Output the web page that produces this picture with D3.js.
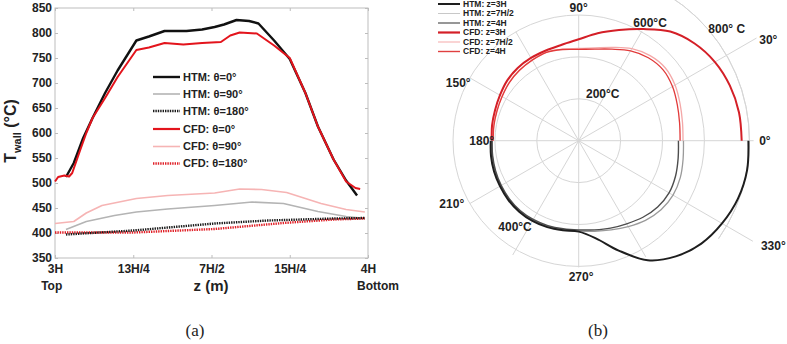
<!DOCTYPE html>
<html>
<head>
<meta charset="utf-8">
<script src="https://cdn.jsdelivr.net/npm/d3@7"></script>
<style>
  body { margin: 0; background: #fff; }
  svg { display: block; }
  text { font-family: "Liberation Sans", Arial, sans-serif; font-weight: bold; fill: #222; }
  .caption { font-family: "Liberation Serif", "Times New Roman", serif; font-weight: normal; font-size: 17px; }
</style>
</head>
<body>
<svg id="fig" width="787" height="344"></svg>
<script>
// ---------- (a) wall temperature along the height ----------
const zTicks = [3, 3.25, 3.5, 3.75, 4];
const zTickLabels = ["3H", "13H/4", "7H/2", "15H/4", "4H"];
const tTicks = [350, 400, 450, 500, 550, 600, 650, 700, 750, 800, 850];

const htm0Z = [3.035, 3.06, 3.09, 3.12, 3.16, 3.2, 3.26, 3.30, 3.35, 3.42, 3.47, 3.51, 3.54, 3.58, 3.62, 3.65, 3.70, 3.75, 3.80, 3.84, 3.89, 3.93, 3.965];
const htm0T = [512, 540, 590, 630, 680, 725, 785, 793, 804, 804, 807, 812, 817, 826, 824, 819, 785, 748, 680, 613, 547, 505, 475];

const cfd0Z = [3.0, 3.01, 3.03, 3.045, 3.055, 3.08, 3.1, 3.12, 3.16, 3.2, 3.26, 3.30, 3.35, 3.41, 3.47, 3.53, 3.56, 3.59, 3.645, 3.70, 3.75, 3.80, 3.84, 3.89, 3.93, 3.96, 3.975];
const cfd0T = [503, 512, 515, 513, 520, 565, 600, 630, 670, 712, 766, 771, 780, 777, 780, 782, 795, 801, 799, 775, 750, 680, 613, 547, 503, 490, 488];

const htm90Z = [3.035, 3.1, 3.19, 3.26, 3.36, 3.51, 3.63, 3.73, 3.84, 3.93, 3.98];
const htm90T = [407, 423, 435, 442, 448, 455, 462, 459, 443, 433, 430];

const cfd90Z = [3.0, 3.06, 3.1, 3.15, 3.26, 3.36, 3.51, 3.59, 3.66, 3.74, 3.85, 3.93, 3.99];
const cfd90T = [419, 423, 440, 455, 469, 475, 480, 488, 487, 481, 459, 447, 442];

const htm180Z = [3.035, 3.25, 3.51, 3.68, 3.89, 3.99];
const htm180T = [397, 405, 419, 425, 429, 430];

const cfd180Z = [3.0, 3.25, 3.51, 3.73, 3.89, 3.99];
const cfd180T = [401, 401, 408, 420, 427, 429];

const lineNames = ["HTM: θ=0°", "HTM: θ=90°", "HTM: θ=180°", "CFD: θ=0°", "CFD: θ=90°", "CFD: θ=180°"];

// ---------- (b) circumferential wall temperature ----------
const upperAngles = [0, 10, 20, 30, 40, 50, 60, 70, 80, 90, 100, 110, 120, 130, 140, 150, 160, 170, 180];
const cfd3H   = [778, 777, 768, 751, 722, 680, 615, 562, 521, 484, 465, 458, 456, 453, 446, 434, 425, 420, 415];
const cfd7H2  = [498, 503, 515, 531, 540, 530, 507, 474, 450, 440, 444, 450, 445, 440, 433, 423, 416, 412, 409];
const cfd4H   = [484, 489, 501, 517, 526, 517, 495, 465, 444, 436, 442, 449, 444, 439, 432, 422, 415, 411, 408];

const lowerAngles = [180, 190, 200, 210, 220, 230, 240, 250, 260, 270, 280, 290, 300, 310, 320, 330, 340, 350, 360];
const htm3H   = [420, 425, 430, 434, 439, 442, 442, 439, 434, 434, 473, 558, 659, 721, 764, 790, 809, 816, 810];
const htm7H2  = [415, 419, 425, 430, 434, 438, 437, 434, 432, 432, 439, 453, 473, 496, 513, 520, 516, 506, 500];
const htm4H   = [413, 417, 422, 427, 432, 435, 434, 431, 427, 426, 432, 444, 458, 477, 492, 498, 492, 482, 476];

const polarNames = ["HTM: z=3H", "HTM: z=7H/2", "HTM: z=4H", "CFD: z=3H", "CFD: z=7H/2", "CFD: z=4H"];
const ringValues = [200, 400, 600];
const spokeAngles = [0, 30, 60, 90, 120, 150, 180, 210, 240, 270, 300, 330];
const spokeReach = [835, 980, 605, 600, 600, 600, 415, 600, 630, 605, 640, 960];
const angleLabels = ["0°", "30°", "90°", "150°", "180°", "210°", "270°", "330°"];
const angleLabelAt = [0, 28, 90, 154.5, 180, 206.5, 271, 331.6];
const angleLabelReach = [889, 1025, 632, 637, 463, 677, 649, 1056];
const ringLabels = ["200°C", "400°C", "600°C", "800° C"];
const ringLabelAt = [62.8, 233.5, 58.7, 37.2];
const ringLabelReach = [251, 511, 656, 887];

const svg = d3.select("#fig");

// ====================== panel (a) ======================
const x = d3.scaleLinear().domain([3, 4]).range([55, 368]);
const y = d3.scaleLinear().domain([350, 850]).range([258, 8]);

const gA = svg.append("g");

gA.append("rect")
  .attr("x", x(3)).attr("y", y(850))
  .attr("width", x(4) - x(3)).attr("height", y(350) - y(850))
  .attr("fill", "none").attr("stroke", "#bdbdbd").attr("stroke-width", 1);

const styleAxis = g => {
  g.select(".domain").remove();
  g.selectAll(".tick line").attr("stroke", "#bdbdbd");
  g.selectAll("text").attr("fill", "#222").style("font-size", "12px")
    .style("font-family", "'Liberation Sans', Arial, sans-serif").style("font-weight", "bold");
};

gA.append("g").attr("transform", `translate(0,${y(350)})`)
  .call(d3.axisBottom(x).tickValues(zTicks).tickFormat((d, i) => zTickLabels[i]).tickSize(-3).tickPadding(6))
  .call(styleAxis);
gA.append("g").attr("transform", `translate(0,${y(850)})`)
  .call(d3.axisTop(x).tickValues(zTicks).tickFormat("").tickSize(-3))
  .call(styleAxis);
gA.append("g").attr("transform", `translate(${x(3)},0)`)
  .call(d3.axisLeft(y).tickValues(tTicks).tickFormat(d3.format("d")).tickSize(-3).tickPadding(3))
  .call(styleAxis);
gA.append("g").attr("transform", `translate(${x(4)},0)`)
  .call(d3.axisRight(y).tickValues(tTicks).tickFormat("").tickSize(-3))
  .call(styleAxis);

gA.append("text").attr("x", 51.7).attr("y", 290).attr("text-anchor", "middle")
  .style("font-size", "12px").text("Top");
gA.append("text").attr("x", 378).attr("y", 290).attr("text-anchor", "middle")
  .style("font-size", "12px").text("Bottom");
gA.append("text").attr("x", 211).attr("y", 291).attr("text-anchor", "middle")
  .style("font-size", "15px").text("z (m)");

const yl = gA.append("text")
  .attr("transform", "translate(16,131) rotate(-90)")
  .attr("text-anchor", "middle").style("font-size", "16px");
yl.append("tspan").text("T");
yl.append("tspan").attr("dy", 5).style("font-size", "11px").text("wall");
yl.append("tspan").attr("dy", -5).text(" (°C)");

const seriesA = [
  { z: htm90Z, t: htm90T, color: "#b4b4b4", w: 1.6, dash: null },
  { z: cfd90Z, t: cfd90T, color: "#f6b4b4", w: 1.6, dash: null },
  { z: cfd180Z, t: cfd180T, color: "#e01f26", w: 2.4, dash: "1.4,1" },
  { z: htm180Z, t: htm180T, color: "#1a1a1a", w: 2.4, dash: "1.4,1" },
  { z: htm0Z, t: htm0T, color: "#111", w: 2.4, dash: null },
  { z: cfd0Z, t: cfd0T, color: "#e3141c", w: 2, dash: null }
];
const lineA = d3.line().x(d => x(d[0])).y(d => y(d[1]));
seriesA.forEach(s => {
  gA.append("path")
    .attr("d", lineA(s.z.map((v, i) => [v, s.t[i]])))
    .attr("fill", "none").attr("stroke", s.color).attr("stroke-width", s.w)
    .attr("stroke-dasharray", s.dash).attr("stroke-linejoin", "round");
});

// legend
const legA = [
  { color: "#111", w: 2.4, dash: null },
  { color: "#b4b4b4", w: 1.6, dash: null },
  { color: "#1a1a1a", w: 2.4, dash: "1.4,1" },
  { color: "#e3141c", w: 2.2, dash: null },
  { color: "#f6b4b4", w: 1.6, dash: null },
  { color: "#e01f26", w: 2.4, dash: "1.4,1" }
];
const legAY = [77, 94, 111, 129, 146.5, 163.5];
legA.forEach((s, i) => {
  gA.append("line").attr("x1", 153).attr("x2", 180).attr("y1", legAY[i]).attr("y2", legAY[i])
    .attr("stroke", s.color).attr("stroke-width", s.w).attr("stroke-dasharray", s.dash);
  gA.append("text").attr("x", 183).attr("y", legAY[i]).attr("dy", "0.35em")
    .style("font-size", "11px").text(lineNames[i]);
});

svg.append("text").attr("class", "caption").attr("x", 195).attr("y", 336)
  .attr("text-anchor", "middle").text("(a)");

// ====================== panel (b) ======================
const cx = 578.7, cy = 140.7;
const r = d3.scaleLinear().domain([0, 1000]).range([0, 209.5]);
const gB = svg.append("g").attr("transform", `translate(${cx},${cy})`);
const toRad = a => a * Math.PI / 180;
const px = (a, v) => r(v) * Math.cos(toRad(a));
const py = (a, v) => -r(v) * Math.sin(toRad(a));

// grid rings
ringValues.forEach(v => {
  gB.append("circle").attr("r", r(v)).attr("fill", "none")
    .attr("stroke", "#d6d6d6").attr("stroke-width", 1);
});
// outer ring, drawn only on its right-hand part
gB.append("path")
  .attr("d", d3.arc()({ innerRadius: r(815), outerRadius: r(815), startAngle: toRad(90 - 58), endAngle: toRad(90 + 35) }))
  .attr("fill", "none").attr("stroke", "#d6d6d6").attr("stroke-width", 1);

// spokes
spokeAngles.forEach((a, i) => {
  gB.append("line").attr("x1", 0).attr("y1", 0)
    .attr("x2", px(a, spokeReach[i])).attr("y2", py(a, spokeReach[i]))
    .attr("stroke", "#d6d6d6").attr("stroke-width", 1);
});

// curves
const radial = d3.lineRadial()
  .angle(d => toRad(90 - d[0]))
  .radius(d => r(d[1]))
  .curve(d3.curveCatmullRom.alpha(0.5));

const seriesB = [
  { a: upperAngles, v: cfd7H2, color: "#f4a8a8", w: 1.3 },
  { a: upperAngles, v: cfd4H, color: "#e23a3a", w: 1.3 },
  { a: upperAngles, v: cfd3H, color: "#d41f27", w: 2 },
  { a: lowerAngles, v: htm7H2, color: "#9a9a9a", w: 1.3 },
  { a: lowerAngles, v: htm4H, color: "#4d4d4d", w: 1.4 },
  { a: lowerAngles, v: htm3H, color: "#1e1e1e", w: 2 }
];
seriesB.forEach(s => {
  gB.append("path")
    .attr("d", radial(s.a.map((a, i) => [a, s.v[i]])))
    .attr("fill", "none").attr("stroke", s.color).attr("stroke-width", s.w);
});

// labels
angleLabels.forEach((t, i) => {
  gB.append("text")
    .attr("x", px(angleLabelAt[i], angleLabelReach[i]))
    .attr("y", py(angleLabelAt[i], angleLabelReach[i]))
    .attr("text-anchor", "middle").attr("dy", "0.35em")
    .style("font-size", "12px").text(t);
});
ringLabels.forEach((t, i) => {
  gB.append("text")
    .attr("x", px(ringLabelAt[i], ringLabelReach[i]))
    .attr("y", py(ringLabelAt[i], ringLabelReach[i]))
    .attr("text-anchor", "middle").attr("dy", "0.35em")
    .style("font-size", "12px").text(t);
});

// legend
const legB = [
  { color: "#1e1e1e", w: 2 },
  { color: "#c8c8c8", w: 1 },
  { color: "#6a6a6a", w: 1.4 },
  { color: "#d41f27", w: 2.2 },
  { color: "#f6b8b8", w: 1.2 },
  { color: "#e04040", w: 1.4 }
];
const legBY = [4, 13.5, 23, 32.5, 42, 51.5];
legB.forEach((s, i) => {
  svg.append("line").attr("x1", 438).attr("x2", 460).attr("y1", legBY[i]).attr("y2", legBY[i])
    .attr("stroke", s.color).attr("stroke-width", s.w);
  svg.append("text").attr("x", 463).attr("y", legBY[i]).attr("dy", "0.35em")
    .style("font-size", "8.5px").text(polarNames[i]);
});

svg.append("text").attr("class", "caption").attr("x", 598).attr("y", 336)
  .attr("text-anchor", "middle").text("(b)");
</script>
</body>
</html>
